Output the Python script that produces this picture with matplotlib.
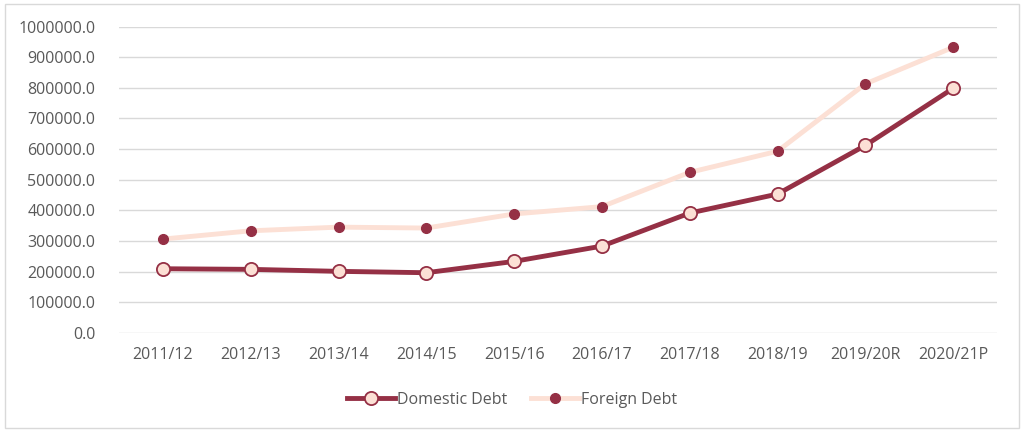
import matplotlib.pyplot as plt
from matplotlib.patches import Rectangle
from matplotlib.ticker import FuncFormatter, MultipleLocator

years = ["2011/12", "2012/13", "2013/14", "2014/15", "2015/16",
         "2016/17", "2017/18", "2018/19", "2019/20R", "2020/21P"]
domestic_debt = [209000, 207000, 200500, 196000, 233000,
                 283000, 391000, 453000, 612000, 798500]
foreign_debt = [306000, 333000, 345000, 342000, 388000,
                412000, 524000, 593000, 813000, 932500]

dark = "#953045"
light = "#FCE0D5"
grey_txt = "#595959"

plt.rcParams['font.family'] = ['Open Sans', 'DejaVu Sans']

fig = plt.figure(figsize=(10.24, 4.32), dpi=100)
ax = fig.add_axes([119/1024, 1-332.7/432, (997-119)/1024, (332.7-26.7)/432])

x = range(len(years))
ax.plot(x, domestic_debt, color=dark, lw=3.5, marker='o', ms=9.5,
        mfc=light, mec=dark, mew=1.3, label="Domestic Debt", zorder=4)
ax.plot(x, foreign_debt, color=light, lw=3.5, marker='o', ms=7,
        mfc=dark, mec=dark, label="Foreign Debt", zorder=3)

ax.set_xlim(-0.5, len(years)-0.5)
ax.set_ylim(0, 1000000)
ax.yaxis.set_major_locator(MultipleLocator(100000))
ax.yaxis.set_major_formatter(FuncFormatter(lambda v, p: "%.1f" % v))
ax.set_xticks(list(x))
ax.set_xticklabels(years)
ax.grid(axis='y', color="#D9D9D9", lw=1)
ax.set_axisbelow(True)
for s in ax.spines.values():
    s.set_visible(False)
ax.tick_params(length=0, labelsize=11.5, colors=grey_txt, pad=10)
ax.tick_params(axis='y', pad=17)

ax.legend(loc='center', bbox_to_anchor=(0.5, 1 - 400/432), bbox_transform=fig.transFigure,
          ncol=2, frameon=False, fontsize=11.5, labelcolor=grey_txt,
          handlelength=3, handletextpad=0.1, columnspacing=1.5)

fig.patches.append(Rectangle((5/1024, 4/432), 1014/1024, 424/432, transform=fig.transFigure,
                             fill=False, edgecolor="#D9D9D9", lw=1))

fig.savefig("out.png", dpi=100)
